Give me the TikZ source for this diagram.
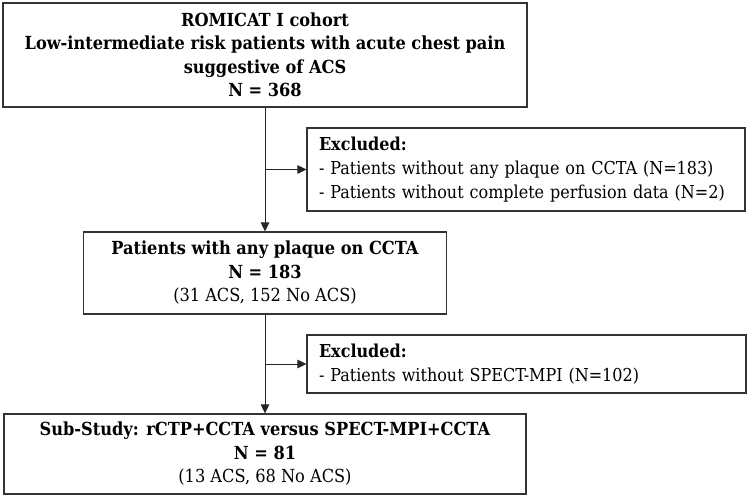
\documentclass[tikz,border=0pt]{standalone}
\usepackage{fontspec}
\setmainfont{DejaVu Serif Condensed}
\usetikzlibrary{arrows.meta}
\begin{document}
\begin{tikzpicture}[x=1pt,y=-1pt,
  box/.style={draw=black!80, line width=1.1pt, inner sep=0pt, align=center,
    font=\fontsize{18}{23.5}\selectfont},
  exbox/.style={draw=black!80, line width=1.1pt, inner xsep=12pt, inner ysep=0pt, align=left,
    font=\fontsize{17.8}{24}\selectfont},
  arr/.style={-{Triangle[length=9pt,width=8.5pt]}, line width=0.9pt, draw=black!85, fill=black}]
\useasboundingbox (0,0) rectangle (755,497);
\fill[white] (0,0) rectangle (755,497);
\node[box, minimum width=524pt, minimum height=104pt] (b1) at (265,55)
  {\textbf{ROMICAT I cohort}\\
   \textbf{Low-intermediate risk patients with acute chest pain}\\
   \textbf{suggestive of ACS}\\
   \textbf{N = 368}};
\node[exbox, minimum width=438pt, minimum height=83pt, text width=414pt] (e1) at (526,169.5)
  {\textbf{Excluded:}\\
   - Patients without any plaque on CCTA (N=183)\\
   - Patients without complete perfusion data (N=2)};
\node[box, minimum width=363pt, minimum height=82pt] (b2) at (265,273)
  {\textbf{Patients with any plaque on CCTA}\\
   \textbf{N = 183}\\
   (31 ACS, 152 No ACS)};
\node[exbox, minimum width=439pt, minimum height=58pt, text width=415pt] (e2) at (526.5,364)
  {\textbf{Excluded:}\\
   - Patients without SPECT-MPI (N=102)};
\node[box, minimum width=522pt, minimum height=80pt] (b3) at (265,454)
  {\textbf{Sub-Study: rCTP+CCTA versus SPECT-MPI+CCTA}\\
   \textbf{N = 81}\\
   (13 ACS, 68 No ACS)};
\draw[arr] (b1.south) -- (b2.north);
\draw[arr] (b1.south |- e1.west) -- (e1.west);
\draw[arr] (b2.south) -- (b3.north);
\draw[arr] (b2.south |- e2.west) -- (e2.west);
\end{tikzpicture}
\end{document}
